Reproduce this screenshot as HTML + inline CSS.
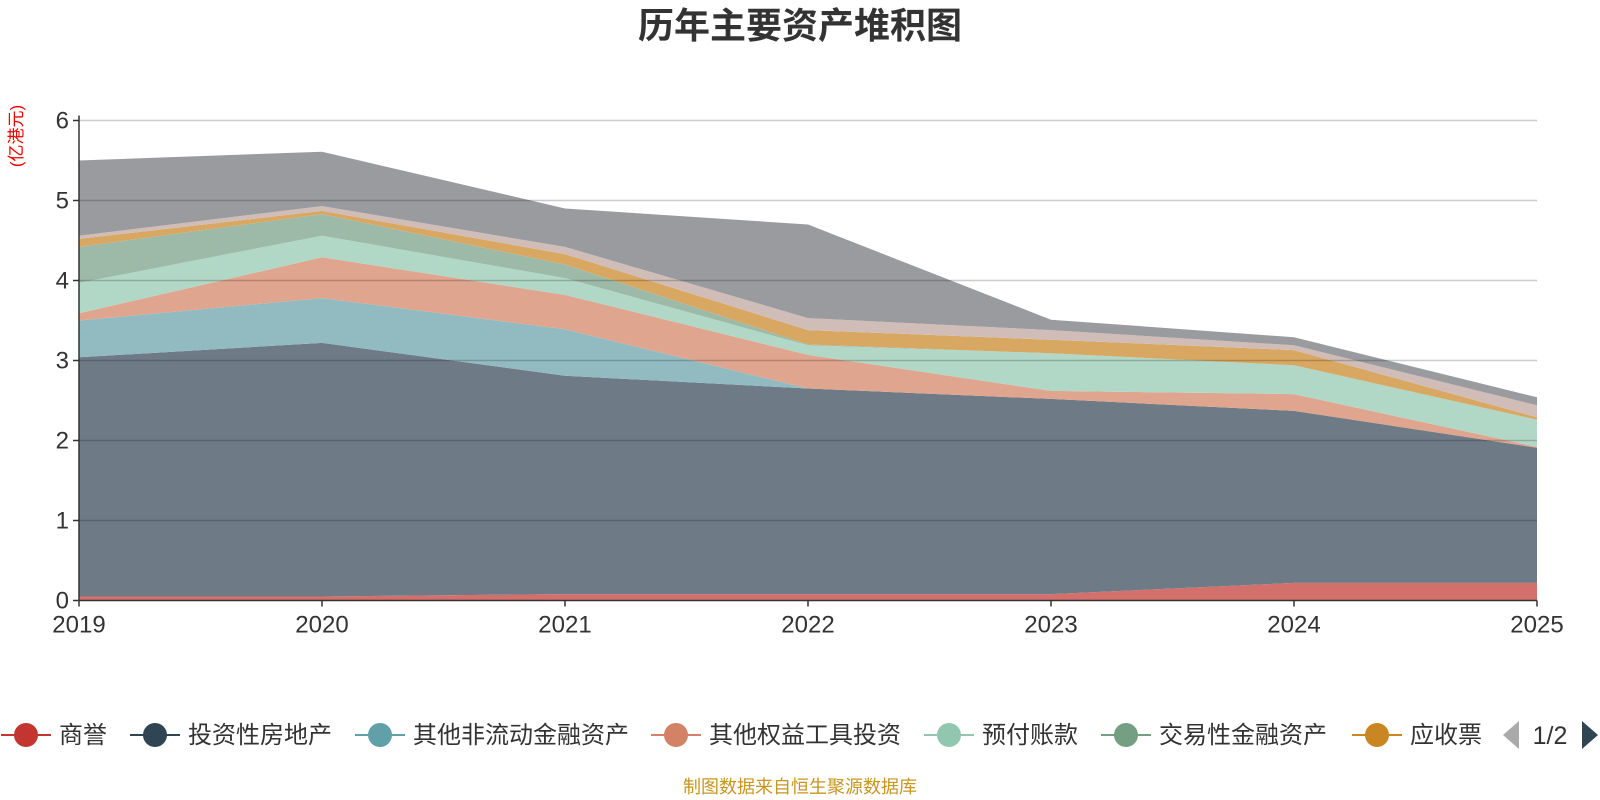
<!DOCTYPE html>
<html><head><meta charset="utf-8">
<style>
html,body{margin:0;padding:0;background:#fff;}
svg{display:block;font-family:"Liberation Sans","Noto Sans CJK SC",sans-serif;}
</style></head>
<body>
<svg id="chart" width="1600" height="800" viewBox="0 0 1600 800">
<text x="800" y="38" text-anchor="middle" font-size="36" font-weight="bold" fill="#333">历年主要资产堆积图</text>
<text transform="translate(22,136) rotate(-90)" text-anchor="middle" font-size="17" fill="#e00">(亿港元)</text>
<g id="areas"></g>
<g id="grid"></g>
<g id="axes"></g>
<g id="legend"></g>
<polygon points="1519,721 1519,749 1503,735" fill="#aaa"/>
<text x="1550" y="744" text-anchor="middle" font-size="25" fill="#333">1/2</text>
<polygon points="1582,721 1582,749 1598,735" fill="#2f4554"/>
<text x="800" y="793" text-anchor="middle" font-size="18" fill="#c8961e">制图数据来自恒生聚源数据库</text>
</svg>
<script>
const years = ['2019','2020','2021','2022','2023','2024','2025'];
const yTicks = [0,1,2,3,4,5,6];
const seriesNames = ['商誉','投资性房地产','其他非流动金融资产','其他权益工具投资','预付账款','交易性金融资产','应收票','其他资产A','其他资产B'];
const goodwill = [0.05,0.05,0.08,0.08,0.08,0.22,0.22];
const investProperty = [2.99,3.17,2.73,2.57,2.44,2.15,1.69];
const otherNonCurFin = [0.46,0.56,0.58,0,0,0,0];
const otherEquity = [0.09,0.51,0.43,0.42,0.10,0.21,0.01];
const prepayments = [0.38,0.27,0.21,0.12,0.47,0.36,0.34];
const tradingFin = [0.45,0.27,0.17,0.01,0,0,0];
const notesRecv = [0.10,0.04,0.13,0.18,0.17,0.19,0.03];
const otherA = [0.04,0.06,0.09,0.15,0.12,0.06,0.15];
const otherB = [0.94,0.68,0.48,1.17,0.13,0.10,0.10];
const seriesValues = [goodwill,investProperty,otherNonCurFin,otherEquity,prepayments,tradingFin,notesRecv,otherA,otherB];
const fills = ['#d4706c','#6e7b86','#92bbc1','#e0a58f','#b1d8c6','#9db9a7','#d8a862','#d1bdb7','#9a9b9f'];
const legendColors = ['#c23531','#2f4554','#61a0a8','#d48265','#91c7ae','#749f83','#ca8622'];

const NS='http://www.w3.org/2000/svg';
const X0=79, X1=1537, Y0=600.5, Y6=120.5;
const xS=i=>X0+(X1-X0)*i/(years.length-1);
const yS=v=>Y0-(Y0-Y6)*v/6;
function mk(tag,attrs,parent){const e=document.createElementNS(NS,tag);for(const k in attrs)e.setAttribute(k,attrs[k]);parent.appendChild(e);return e;}

const areas=document.getElementById('areas');
let base=years.map(()=>0);
seriesValues.forEach((vals,si)=>{
  const top=base.map((b,i)=>b+vals[i]);
  const pts=[];
  top.forEach((t,i)=>pts.push(xS(i)+','+yS(t)));
  for(let i=years.length-1;i>=0;i--)pts.push(xS(i)+','+yS(base[i]));
  const p=mk('polygon',{points:pts.join(' '),fill:fills[si]},areas);
  
  
  base=top;
});

const grid=document.getElementById('grid');
yTicks.forEach(t=>{
  if(t===0)return;
  const l=mk('line',{x1:X0,x2:X1,y1:yS(t),y2:yS(t),stroke:'rgba(0,0,0,0.2)','stroke-width':1.5},grid);
  
  
});

const axes=document.getElementById('axes');
mk('line',{x1:X0,x2:X0,y1:Y6-5,y2:Y0,stroke:'#333','stroke-width':1.5},axes);
mk('line',{x1:X0,x2:X1,y1:Y0,y2:Y0,stroke:'#333','stroke-width':1.5},axes);
yTicks.forEach(t=>{
  mk('line',{x1:X0-6,x2:X0,y1:yS(t),y2:yS(t),stroke:'#333','stroke-width':1.5},axes);
  const tx=mk('text',{x:X0-10,y:yS(t)+8,'text-anchor':'end','font-size':24,fill:'#333'},axes);
  tx.textContent=t;
  
  
});
years.forEach((y,i)=>{
  mk('line',{x1:xS(i),x2:xS(i),y1:Y0,y2:Y0+6,stroke:'#333','stroke-width':1.5},axes);
  const tx=mk('text',{x:xS(i),y:Y0+32,'text-anchor':'middle','font-size':24,fill:'#333'},axes);
  tx.textContent=y;
  
  
});

const legend=document.getElementById('legend');
const lgX=[26,155,380,676,949,1126,1377];
legendColors.forEach((c,i)=>{
  const g=mk('g',{},legend);
  
  
  mk('line',{x1:lgX[i]-25,x2:lgX[i]+25,y1:735,y2:735,stroke:c,'stroke-width':2},g);
  mk('circle',{cx:lgX[i],cy:735,r:12,fill:c},g);
  const tx=mk('text',{x:lgX[i]+33,y:743,'font-size':24,fill:'#333'},g);
  tx.textContent=seriesNames[i];
});
</script>
</body></html>
